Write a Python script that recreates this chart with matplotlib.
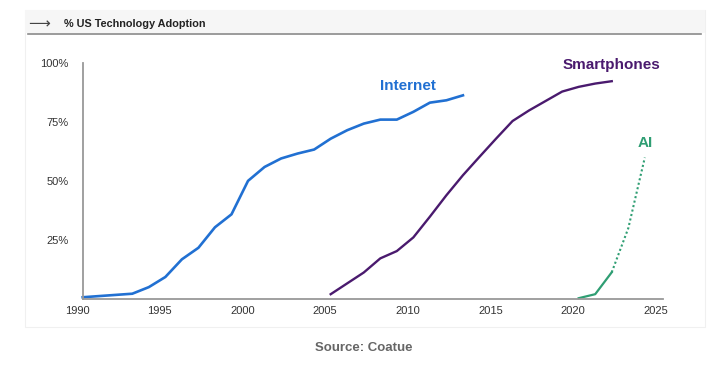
import numpy as np
import matplotlib.pyplot as plt
import matplotlib.transforms as mtransforms
from matplotlib.patches import Rectangle

plt.rcParams['font.family'] = ['Liberation Sans', 'DejaVu Sans']

internet_years = [1990, 1991, 1992, 1993, 1994, 1995, 1996, 1997, 1998, 1999, 2000, 2001,
                  2002, 2003, 2004, 2005, 2006, 2007, 2008, 2009, 2010, 2011, 2012, 2013]
internet_vals = [0.7, 1.2, 1.7, 2.2, 5.0, 9.3, 16.8, 21.7, 30.4, 35.9, 50.1, 56.0,
                 59.6, 61.7, 63.4, 68.0, 71.6, 74.4, 76.1, 76.1, 79.4, 83.3, 84.3, 86.4]

phone_years = [2005, 2006, 2007, 2008, 2009, 2010, 2011, 2012, 2013, 2014, 2015,
               2016, 2017, 2018, 2019, 2020, 2021, 2022]
phone_vals = [2.0, 6.6, 11.2, 17.2, 20.3, 26.1, 34.9, 44.0, 52.5, 60.3, 68.0,
              75.5, 80.0, 84.0, 88.0, 90.0, 91.4, 92.4]

ai_years = [2020, 2021, 2022]
ai_vals = [0.3, 2.0, 11.3]
ai_proj_years = [2022, 2023, 2024]
ai_proj_vals = [11.3, 30.0, 60.0]

tick_years = [1990, 1995, 2000, 2005, 2010, 2015, 2020, 2025]
y_ticks = [25, 50, 75, 100]

blue = '#2170d2'
purple = '#4a1a6e'
green = '#2f9e73'

fig = plt.figure(figsize=(7.25, 3.81), dpi=100)

# card background + header strip, kept behind the axes
fig.patches.append(Rectangle((25 / 725, 1 - 327 / 381), 680 / 725, 317 / 381,
                             transform=fig.transFigure, facecolor='white',
                             edgecolor='#f0f0f0', lw=0.8, zorder=-2))
fig.patches.append(Rectangle((25 / 725, 1 - 33 / 381), 680 / 725, 23 / 381,
                             transform=fig.transFigure, facecolor='#f6f6f6',
                             edgecolor='none', zorder=-1))
fig.add_artist(plt.Line2D([28 / 725, 701 / 725], [1 - 33.5 / 381, 1 - 33.5 / 381],
                          transform=fig.transFigure, color='#8a8a8a', lw=1.2))
fig.text(28 / 725, 1 - 24 / 381, '⟶', fontsize=11, color='#444444', va='center',
         family=['DejaVu Sans'])
fig.text(64 / 725, 1 - 24 / 381, '% US Technology Adoption', fontsize=7.8,
         fontweight='bold', color='#222222', va='center')

ax = fig.add_axes([82.7 / 725, 1 - 298.9 / 381, 580.3 / 725, 235.6 / 381])
ax.set_facecolor('none')

ax.plot(internet_years, internet_vals, color=blue, lw=1.9, clip_on=False,
        solid_joinstyle='round')
ax.plot(phone_years, phone_vals, color=purple, lw=1.7, clip_on=False,
        solid_joinstyle='round')
ax.plot(ai_years, ai_vals, color=green, lw=1.6, clip_on=False)
ax.plot(ai_proj_years, ai_proj_vals, color=green, lw=1.5, ls=(0, (1, 1.2)), clip_on=False)

ax.text(2009.65, 90.5, 'Internet', color=blue, fontsize=11, fontweight='bold',
        ha='center', va='center')
ax.text(2022.0, 99.3, 'Smartphones', color=purple, fontsize=11, fontweight='bold',
        ha='center', va='center')
ax.text(2024.05, 66, 'AI', color=green, fontsize=11, fontweight='bold',
        ha='center', va='center')

ax.set_xlim(1990, 2025.1)
ax.set_ylim(0, 100)
ax.set_xticks(tick_years)
ax.set_xticklabels([str(y) for y in tick_years])
ax.set_yticks(y_ticks)
ax.set_yticklabels([f'{v}%' for v in y_ticks])
ax.tick_params(axis='both', length=0, labelsize=8, labelcolor='#333333')
ax.tick_params(axis='x', pad=5)
ax.tick_params(axis='y', pad=10)

shift = mtransforms.ScaledTranslation(-5.5 / 100, 0, fig.dpi_scale_trans)
for lab in ax.get_xticklabels():
    lab.set_transform(lab.get_transform() + shift)

for s in ['top', 'right']:
    ax.spines[s].set_visible(False)
for s in ['left', 'bottom']:
    ax.spines[s].set_color('#999999')
    ax.spines[s].set_linewidth(1.3)

fig.text(364 / 725, 1 - 348 / 381, 'Source: Coatue', fontsize=9.5, fontweight='bold',
         color='#666666', ha='center', va='center')

fig.savefig('out.png', dpi=100)
